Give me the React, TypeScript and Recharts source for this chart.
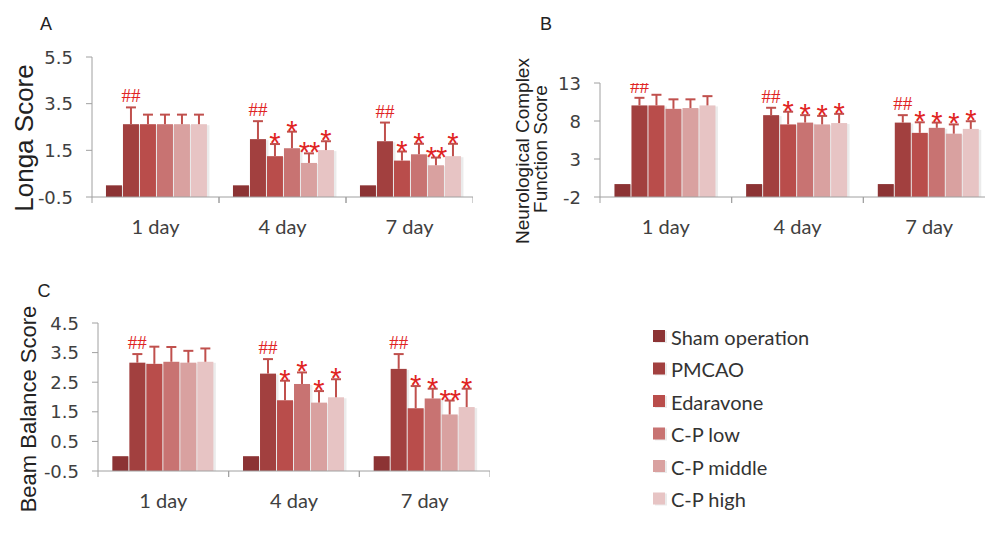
import { BarChart, Bar, XAxis, YAxis } from 'recharts'

const days = ['1 day', '4 day', '7 day']
const groups = ['Sham operation', 'PMCAO', 'Edaravone', 'C-P low', 'C-P middle', 'C-P high']
const colors = ['#8c3334', '#a2403f', '#b94d4b', '#c87372', '#d9a1a0', '#e7c4c4']

// A: Longa score, one row per group, one value per day
const longaMean = [
  [0, 0, 0],
  [2.62, 1.98, 1.89],
  [2.62, 1.25, 1.06],
  [2.62, 1.59, 1.33],
  [2.62, 0.96, 0.86],
  [2.62, 1.51, 1.25],
]
const longaSd = [
  [0, 0, 0],
  [0.72, 0.77, 0.8],
  [0.41, 0.52, 0.39],
  [0.41, 0.71, 0.45],
  [0.41, 0.41, 0.33],
  [0.41, 0.38, 0.53],
]
const longaMarks = [
  ['', '', ''],
  ['##', '##', '##'],
  ['', '*', '*'],
  ['', '*', '*'],
  ['', '**', '**'],
  ['', '*', '*'],
]
const longaTicks = [-0.5, 1.5, 3.5, 5.5]

// B: neurological complex function score
const nfMean = [
  [-0.3, -0.3, -0.3],
  [10.05, 8.77, 7.79],
  [10.05, 7.55, 6.44],
  [9.6, 7.79, 7.1],
  [9.7, 7.55, 6.33],
  [10.05, 7.73, 6.96],
]
const nfSd = [
  [0, 0, 0],
  [1.0, 0.97, 0.98],
  [1.4, 1.67, 1.39],
  [1.25, 0.98, 0.69],
  [1.15, 1.12, 1.22],
  [1.22, 1.21, 1.01],
]
const nfMarks = [
  ['', '', ''],
  ['##', '##', '##'],
  ['', '*', '*'],
  ['', '*', '*'],
  ['', '*', '*'],
  ['', '*', '*'],
]
const nfTicks = [-2, 3, 8, 13]

// C: beam balance score
const bbMean = [
  [0, 0, 0],
  [3.16, 2.79, 2.95],
  [3.12, 1.89, 1.62],
  [3.19, 2.44, 1.95],
  [3.16, 1.81, 1.41],
  [3.19, 1.99, 1.66],
]
const bbSd = [
  [0, 0, 0],
  [0.29, 0.49, 0.5],
  [0.58, 0.66, 0.75],
  [0.5, 0.39, 0.33],
  [0.4, 0.39, 0.47],
  [0.45, 0.61, 0.62],
]
const bbMarks = [
  ['', '', ''],
  ['##', '##', '##'],
  ['', '*', '*'],
  ['', '*', '*'],
  ['', '*', '**'],
  ['', '*', '*'],
]
const bbTicks = [-0.5, 0.5, 1.5, 2.5, 3.5, 4.5]

const axisGray = '#a0a0a0'
const errColor = '#c0504d'
const markColor = '#e02424'

function buildRows(mean: number[][], sd: number[][], marks: string[][]) {
  return days.map((day, i) => {
    const row: Record<string, any> = { day }
    groups.forEach((_, j) => {
      row['m' + j] = mean[j][i]
      row['s' + j] = sd[j][i]
      row['k' + j] = marks[j][i]
    })
    return row
  })
}

function makeShape(j: number, base: number) {
  return (p: any) => {
    const { x, y, width, height, payload } = p
    const v = payload['m' + j]
    const sd = payload['s' + j]
    const mark = payload['k' + j]
    const ppu = height / (v - base)
    const cx = x + width / 2
    const top = y - sd * ppu
    return (
      <g>
        <rect x={x + 2} y={y + 1} width={width} height={height} fill="#000" opacity={0.08} />
        <rect x={x + 0.5} y={y} width={width - 1} height={height} fill={colors[j]} />
        {sd > 0 && (
          <g stroke={errColor} strokeWidth={2}>
            <line x1={cx} y1={y} x2={cx} y2={top} />
            <line x1={cx - 5} y1={top} x2={cx + 5} y2={top} />
          </g>
        )}
        {mark === '##' && (
          <text x={cx} y={top - 5} textAnchor="middle" fontSize={19} fontFamily="Liberation Serif" fill={markColor}>
            ##
          </text>
        )}
        {mark.startsWith('*') && (
          <text x={cx} y={top + 9} textAnchor="middle" fontSize={29} fontFamily="Liberation Sans" fill={markColor}
            letterSpacing={mark.length > 1 ? -1 : 0}>
            {mark}
          </text>
        )}
      </g>
    )
  }
}

function DayTick({ x, y, payload, band }: any) {
  return (
    <g>
      <line x1={x - band / 2} y1={y} x2={x - band / 2} y2={y + 6} stroke={axisGray} />
      <line x1={x + band / 2} y1={y} x2={x + band / 2} y2={y + 6} stroke={axisGray} />
      <text x={x} y={y + 37} textAnchor="middle" fontSize={20} fontFamily="Lato" fill="#404040">
        {payload.value}
      </text>
    </g>
  )
}

function ValueTick({ x, y, payload }: any) {
  return (
    <text x={x} y={y} textAnchor="end" dominantBaseline="central" fontSize={18} fontFamily="DejaVu Sans" fill="#404040">
      {payload.value}
    </text>
  )
}

interface PanelProps {
  left: number
  top: number
  width: number
  height: number
  yWidth: number
  marginTop: number
  marginBottom: number
  domain: [number, number]
  ticks: number[]
  mean: number[][]
  sd: number[][]
  marks: string[][]
}

function Panel({ left, top, width, height, yWidth, marginTop, marginBottom, domain, ticks, mean, sd, marks }: PanelProps) {
  const rows = buildRows(mean, sd, marks)
  const base = domain[0]
  const band = (width - yWidth) / days.length
  return (
    <div style={{ position: 'absolute', left, top }}>
      <BarChart
        width={width}
        height={height}
        data={rows}
        margin={{ top: marginTop, right: 0, bottom: marginBottom, left: 0 }}
        barCategoryGap="10.6%"
        barGap={0}
      >
        <XAxis
          dataKey="day"
          tickLine={false}
          tickSize={0}
          tickMargin={0}
          interval={0}
          axisLine={{ stroke: axisGray }}
          tick={<DayTick band={band} />}
        />
        <YAxis
          width={yWidth}
          domain={domain}
          ticks={ticks}
          interval={0}
          allowDataOverflow
          axisLine={{ stroke: axisGray }}
          tickLine={{ stroke: axisGray }}
          tickSize={6}
          tickMargin={13}
          tick={<ValueTick />}
        />
        {groups.map((g, j) => (
          <Bar
            key={g}
            name={g}
            dataKey={(r: any) => [base, r['m' + j]]}
            fill={colors[j]}
            shape={makeShape(j, base)}
            isAnimationActive={false}
          />
        ))}
      </BarChart>
    </div>
  )
}

export default function App() {
  return (
    <div style={{ position: 'absolute', left: 0, top: 0, width: 985, height: 540, overflow: 'hidden', background: '#fff' }}>
      <Panel left={0} top={0} width={473} height={270} yWidth={92} marginTop={57} marginBottom={43}
        domain={[-0.5, 5.5]} ticks={longaTicks} mean={longaMean} sd={longaSd} marks={longaMarks} />
      <Panel left={500} top={0} width={495} height={270} yWidth={100} marginTop={83} marginBottom={43}
        domain={[-2, 13]} ticks={nfTicks} mean={nfMean} sd={nfSd} marks={nfMarks} />
      <Panel left={0} top={280} width={490} height={260} yWidth={98} marginTop={43} marginBottom={39}
        domain={[-0.5, 4.5]} ticks={bbTicks} mean={bbMean} sd={bbSd} marks={bbMarks} />

      <svg width={985} height={540} style={{ position: 'absolute', left: 0, top: 0, pointerEvents: 'none' }}>
        <g fontFamily="Liberation Sans" fill="#222">
          <text x={46} y={30} textAnchor="middle" fontSize={18}>A</text>
          <text x={546} y={30} textAnchor="middle" fontSize={18}>B</text>
          <text x={44} y={297} textAnchor="middle" fontSize={18}>C</text>
          <text transform="translate(24,138) rotate(-90)" textAnchor="middle" dominantBaseline="central" fontSize={26}>
            Longa Score
          </text>
          <text transform="translate(522,151) rotate(-90)" textAnchor="middle" dominantBaseline="central" fontSize={19}>
            Neurological Complex
          </text>
          <text transform="translate(540,149) rotate(-90)" textAnchor="middle" dominantBaseline="central" fontSize={19}>
            Function Score
          </text>
          <text transform="translate(28,409) rotate(-90)" textAnchor="middle" dominantBaseline="central" fontSize={22}>
            Beam Balance Score
          </text>
        </g>
        <g fontFamily="Lato" fontSize={20} fill="#333">
          {groups.map((g, j) => (
            <g key={g}>
              <rect x={655} y={331 + j * 32.5} width={12} height={12} fill="#000" opacity={0.08} />
              <rect x={653} y={330 + j * 32.5} width={12} height={12} fill={colors[j]} />
              <text x={671} y={336.5 + j * 32.5} dominantBaseline="central">{g}</text>
            </g>
          ))}
        </g>
      </svg>
    </div>
  )
}
